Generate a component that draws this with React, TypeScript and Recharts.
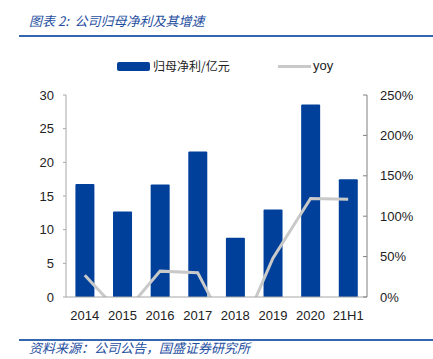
import React from "react";
import { ComposedChart, Bar, Line, XAxis, YAxis } from "recharts";

const categories = ["2014", "2015", "2016", "2017", "2018", "2019", "2020", "21H1"];
const profit = [16.8, 12.7, 16.7, 21.6, 8.8, 13.0, 28.6, 17.5];
const yoy = [0.27, -0.23, 0.32, 0.3, -0.59, 0.48, 1.22, 1.21];
const leftTicks = [0, 5, 10, 15, 20, 25, 30];
const rightTicks = [0, 0.5, 1, 1.5, 2, 2.5];

const data = categories.map((c, i) => ({ name: c, profit: profit[i], yoy: yoy[i] }));

const BAR = "#00409a";
const LINE = "#c9c9c9";
const BLUE = "#1f4f9f";
const FONT = "'Liberation Sans', Arial, sans-serif";
const CJK = "'Noto Sans CJK SC', sans-serif";

const LegendBox = () => (
  <div style={{ position: "absolute", left: 0, top: 56, width: 433, height: 20 }}>
    <div style={{ position: "absolute", left: 117, top: 6, width: 33, height: 9, background: BAR, borderRadius: 2 }} />
    <span style={{ position: "absolute", left: 153, top: 1, fontFamily: CJK, fontSize: 12, color: "#222", lineHeight: "18px" }}>
      归母净利/亿元
    </span>
    <div style={{ position: "absolute", left: 278, top: 9, width: 33, height: 3, background: LINE }} />
    <span style={{ position: "absolute", left: 313, top: 1, fontFamily: FONT, fontSize: 13, color: "#222", lineHeight: "18px" }}>
      yoy
    </span>
  </div>
);

export default function App() {
  return (
    <div style={{ position: "absolute", left: 0, top: 0, width: 433, height: 359, background: "#fff", overflow: "hidden" }}>
      <div style={{ position: "absolute", left: 29, top: 12, fontFamily: CJK, fontStyle: "italic", fontSize: 13, color: BLUE, whiteSpace: "nowrap", lineHeight: "18px" }}>
        图表 2:&nbsp; 公司归母净利及其增速
      </div>
      <div style={{ position: "absolute", left: 19, top: 35, width: 414, height: 2, background: "#3566b0" }} />
      <div style={{ position: "absolute", left: 0, top: 0 }}>
        <ComposedChart
          width={433}
          height={359}
          data={data}
          margin={{ top: 95, right: 16, bottom: 32, left: 26 }}
          barCategoryGap="25%"
        >
          <XAxis
            dataKey="name"
            xAxisId="x"
            stroke="#a6a6a6"
            tickLine={false}
            tickSize={0}
            tickMargin={14}
            height={30}
            tick={{ fill: "#222", fontSize: 13, fontFamily: FONT }}
            interval={0}
          />
          <YAxis
            yAxisId="left"
            orientation="left"
            width={40}
            domain={[0, 30]}
            ticks={leftTicks}
            stroke="#a6a6a6"
            tickSize={3}
            tickMargin={9}
            tick={{ fill: "#222", fontSize: 13, fontFamily: FONT }}
          />
          <YAxis
            yAxisId="right"
            orientation="right"
            width={50}
            domain={[0, 2.5]}
            ticks={rightTicks}
            allowDataOverflow
            stroke="#808080"
            tickSize={-4}
            tickMargin={17}
            tickFormatter={(v: number) => `${Math.round(v * 100)}%`}
            tick={{ fill: "#222", fontSize: 13, fontFamily: FONT, textAnchor: "start" }}
          />
          <Bar xAxisId="x" yAxisId="left" dataKey="profit" fill={BAR} isAnimationActive={false} radius={[1, 1, 0, 0]} />
          <Line
            xAxisId="x"
            yAxisId="right"
            dataKey="yoy"
            stroke={LINE}
            strokeWidth={3}
            dot={false}
            activeDot={false}
            isAnimationActive={false}
          />
        </ComposedChart>
      </div>
      <LegendBox />
      <div style={{ position: "absolute", left: 19, top: 339, width: 414, height: 2, background: "#3566b0" }} />
      <div style={{ position: "absolute", left: 29, top: 339, fontFamily: CJK, fontStyle: "italic", fontSize: 13, color: BLUE, whiteSpace: "nowrap", lineHeight: "18px" }}>
        资料来源：公司公告，国盛证券研究所
      </div>
    </div>
  );
}
